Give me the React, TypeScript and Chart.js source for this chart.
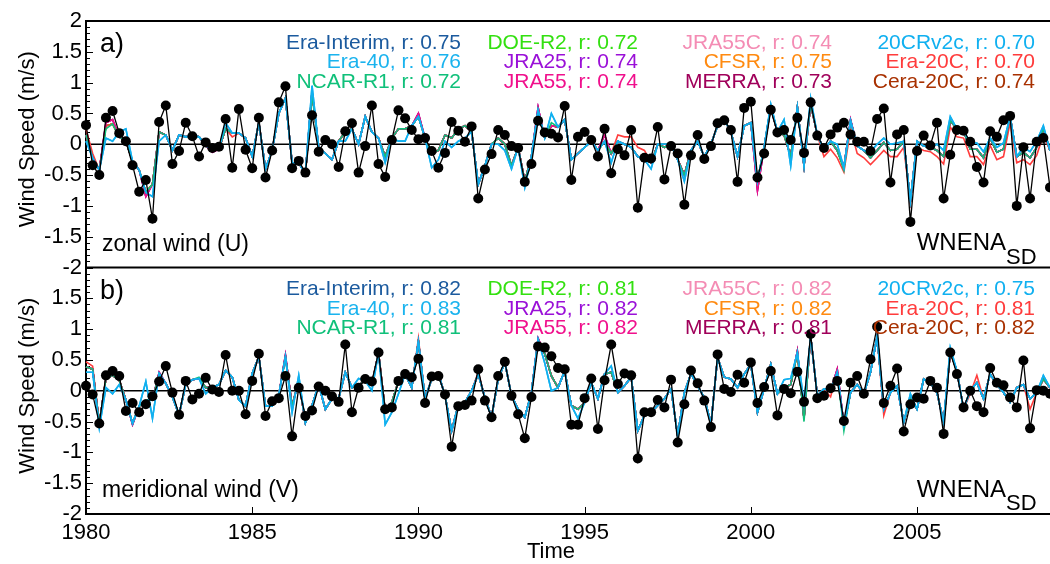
import { useEffect, useRef } from "react";
import { Chart, registerables } from "chart.js";

Chart.register(...registerables);

const FONT = '"Liberation Sans", Arial, Helvetica, sans-serif';

const FIRST_YEAR = 1980;
const LAST_YEAR = 2009;
const SAMPLES_PER_YEAR = 5;
const yearTicks = [1980, 1985, 1990, 1995, 2000, 2005];
const speedTicks = [-2, -1.5, -1, -0.5, 0, 0.5, 1, 1.5, 2];

const reanalyses = [
  "Era-Interim", "Era-40", "NCAR-R1",
  "DOE-R2", "JRA25", "JRA55",
  "JRA55C", "CFSR", "MERRA",
  "20CRv2c", "Era-20C", "Cera-20C",
];
const reanalysisColors = [
  "#1b5a9e", "#1ab3ee", "#10c07a",
  "#33e010", "#9a10d8", "#f0108c",
  "#f48cb4", "#ff8a10", "#a0005a",
  "#10b0f0", "#ff3c3c", "#a83000",
];
// which common track each reanalysis follows
const reanalysisTrack = [
  "core", "cyan", "green",
  "core", "magenta", "magenta",
  "core", "core", "magenta",
  "cyan", "red", "core",
];
const zonalR = [0.75, 0.76, 0.72, 0.72, 0.74, 0.74, 0.74, 0.75, 0.73, 0.70, 0.70, 0.74];
const meridionalR = [0.82, 0.83, 0.81, 0.81, 0.82, 0.82, 0.82, 0.82, 0.81, 0.75, 0.81, 0.82];
// painting order of the reanalysis curves, topmost first
const drawOrder = [9, 1, 2, 5, 8, 10, 4, 3, 7, 11, 0, 6];

// a) zonal wind, observed anomalies
const zonalObs = [
  0.31, -0.34, -0.50, 0.43, 0.54, 0.18, 0.05, -0.34, -0.77, -0.58,
  -1.21, 0.36, 0.63, -0.32, -0.11, 0.35, 0.13, -0.20, 0.03, -0.06,
  -0.04, 0.41, -0.38, 0.57, -0.09, -0.39, 0.43, -0.54, -0.10, 0.68,
  0.94, -0.39, -0.27, -0.46, 0.47, -0.12, 0.07, 0.00, -0.37, 0.21,
  0.34, -0.46, -0.03, 0.63, -0.32, -0.53, 0.07, 0.55, 0.42, 0.23,
  0.08, 0.10, -0.11, -0.38, -0.14, 0.36, 0.22, 0.04, 0.29, -0.88,
  -0.41, -0.16, 0.23, 0.15, -0.03, -0.06, -0.61, -0.32, 0.38, 0.19,
  0.17, 0.11, 0.62, -0.58, 0.12, 0.20, 0.07, -0.20, 0.25, -0.47,
  -0.08, -0.18, 0.23, -1.03, -0.22, -0.23, 0.28, -0.57, -0.03, -0.15,
  -0.98, -0.18, 0.15, -0.24, -0.03, 0.34, 0.39, 0.23, -0.61, 0.59,
  0.69, -0.54, -0.15, 0.56, 0.19, 0.23, 0.07, 0.43, -0.14, 0.68,
  0.14, -0.06, 0.16, 0.27, 0.35, 0.16, 0.04, 0.04, -0.11, 0.41,
  0.58, -0.62, 0.16, 0.23, -1.26, -0.11, 0.14, -0.02, 0.35, -0.88,
  -0.17, 0.23, 0.22, 0.04, -0.37, -0.62, 0.21, 0.12, 0.39, 0.46,
  -1.00, -0.05, -0.88, 0.04, 0.10, -0.70,
];
// a) common track of the reanalyses
const zonalCore = [
  0.15, -0.22, -0.42, 0.30, 0.33, 0.12, 0.05, -0.28, -0.42, -0.78,
  -0.65, 0.20, 0.15, -0.10, 0.15, 0.12, 0.14, 0.12, -0.02, -0.10,
  -0.08, 0.25, 0.18, 0.18, 0.10, -0.20, 0.35, -0.40, -0.10, 0.50,
  0.75, -0.30, -0.30, -0.48, 0.85, -0.05, -0.15, -0.25, 0.05, 0.20,
  0.25, 0.00, 0.45, 0.20, 0.10, -0.20, 0.10, 0.25, 0.25, 0.30,
  0.45, 0.10, -0.15, -0.10, 0.15, 0.10, 0.25, 0.30, 0.20, -0.65,
  -0.35, 0.00, 0.10, 0.00, -0.35, -0.05, -0.60, -0.20, 0.55, 0.10,
  0.30, 0.28, 0.40, -0.25, -0.15, -0.05, 0.05, -0.10, 0.05, -0.15,
  0.05, 0.00, -0.05, -0.20, -0.25, -0.30, 0.00, -0.05, 0.00, -0.25,
  -0.50, -0.10, 0.05, -0.20, 0.00, 0.30, 0.40, 0.20, -0.20, 0.30,
  0.35, -0.60, -0.05, 0.60, 0.20, 0.15, -0.20, 0.60, -0.35, 0.65,
  0.15, -0.08, 0.05, -0.10, -0.38, 0.38, -0.03, -0.10, -0.22, -0.10,
  0.03, -0.10, -0.08, 0.05, -0.92, 0.05, -0.03, -0.05, -0.10, -0.20,
  0.38, 0.25, 0.22, -0.08, -0.08, -0.22, 0.10, -0.13, -0.08, 0.45,
  -0.20, -0.13, -0.22, -0.05, 0.25, -0.10,
];
// a) samples where individual curves leave the common track: [index, value]
const zonalCyanDepart: [number, number][] = [
  [0, 0.05], [3, 0.10], [4, 0.05], [5, 0.20], [6, 0.25], [10, -0.85], [11, 0.05], [21, 0.35],
  [34, 0.95], [39, 0.05], [45, -0.30], [47, 0.05], [48, 0.05], [52, -0.38], [53, -0.25], [54, 0.05],
  [55, -0.05], [56, 0.05], [57, 0.10], [62, 0.00], [63, -0.10], [64, -0.40], [66, -0.70], [70, 0.50],
  [79, -0.30], [85, -0.40], [87, 0.00], [90, -0.60], [103, 0.65], [105, 0.40], [106, -0.35], [109, 0.75],
  [113, 0.00], [118, -0.12], [119, 0.00], [120, 0.10], [121, 0.00], [122, 0.02], [128, 0.00], [129, -0.10],
  [130, 0.45], [133, 0.02], [134, 0.02], [135, -0.12], [137, -0.05], [138, 0.02], [141, -0.05], [142, -0.12],
  [143, 0.05], [144, 0.30],
];
const zonalRedDepart: [number, number][] = [
  [0, 0.25], [1, -0.15], [22, 0.12], [80, 0.15], [81, 0.12], [82, 0.12], [83, -0.05], [84, -0.10],
  [111, -0.20], [112, -0.08], [113, -0.22], [114, -0.45], [115, 0.25], [116, -0.15], [117, -0.22], [118, -0.33],
  [119, -0.22], [120, -0.10], [121, -0.20], [122, -0.20], [123, -0.05], [124, -0.95], [125, -0.05], [126, -0.10],
  [127, -0.12], [128, -0.20], [129, -0.32], [130, 0.28], [131, 0.12], [132, 0.10], [133, -0.20], [134, -0.20],
  [135, -0.33], [136, -0.02], [137, -0.25], [138, -0.20], [139, 0.35], [140, -0.30], [141, -0.25], [142, -0.33],
  [143, -0.18], [144, 0.15],
];
const zonalMagentaDepart: [number, number][] = [
  [3, 0.35], [4, 0.40], [9, -0.85], [19, -0.13], [50, 0.50], [68, 0.60], [78, 0.15], [101, -0.75], [115, 0.40],
];
const zonalGreenDepart: [number, number][] = [[3, 0.25], [34, 0.80], [70, 0.35], [114, -0.42]];

// b) meridional wind, observed anomalies
const meridionalObs = [
  0.08, -0.06, -0.53, 0.25, 0.32, 0.24, -0.33, -0.20, -0.35, -0.22,
  -0.09, 0.15, 0.40, -0.03, -0.39, 0.16, -0.14, -0.05, 0.21, 0.02,
  -0.02, 0.58, 0.00, 0.00, -0.38, 0.16, 0.60, -0.41, -0.17, -0.12,
  0.24, -0.74, 0.05, -0.41, -0.32, 0.07, 0.00, -0.09, -0.18, 0.75,
  -0.35, 0.05, 0.19, 0.15, 0.62, -0.30, -0.27, 0.16, 0.27, 0.22,
  0.52, -0.20, 0.23, 0.24, -0.06, -0.91, -0.25, -0.23, -0.16, 0.35,
  -0.16, -0.43, 0.24, 0.47, -0.08, -0.38, -0.77, -0.10, 0.72, 0.70,
  0.56, 0.37, 0.35, -0.55, -0.55, -0.12, 0.20, -0.62, 0.17, 0.75,
  0.11, 0.28, 0.25, -1.10, -0.35, -0.35, -0.15, -0.27, 0.18, -0.84,
  -0.22, 0.33, 0.12, -0.16, -0.59, 0.59, 0.03, -0.02, 0.26, 0.13,
  0.46, -0.20, 0.06, 0.32, -0.40, 0.03, -0.04, 0.31, -0.18, 0.92,
  -0.12, -0.08, 0.04, 0.16, -0.49, 0.13, 0.24, -0.05, 0.51, 1.04,
  -0.20, 0.08, 0.36, -0.66, -0.22, -0.11, -0.13, 0.16, 0.05, -0.70,
  0.62, 0.27, -0.27, 0.00, -0.25, -0.35, 0.37, 0.13, 0.09, -0.11,
  -0.27, 0.49, -0.61, 0.01, 0.00, -0.05,
];
// b) common track of the reanalyses
const meridionalCore = [
  0.39, 0.35, -0.53, 0.20, 0.25, 0.17, -0.15, -0.53, -0.25, -0.15,
  -0.15, 0.28, 0.12, -0.10, -0.39, 0.10, 0.18, 0.20, 0.05, 0.05,
  0.10, 0.33, 0.22, -0.15, -0.25, 0.28, 0.55, -0.25, -0.25, -0.07,
  0.55, -0.25, 0.17, -0.52, -0.24, 0.10, -0.30, -0.13, -0.13, 0.30,
  0.05, 0.10, 0.16, 0.10, 0.62, -0.32, -0.19, 0.16, 0.27, 0.05,
  0.80, -0.13, 0.19, 0.28, -0.08, -0.65, -0.23, -0.19, 0.00, 0.27,
  -0.11, -0.43, 0.19, 0.46, -0.08, -0.30, -0.43, -0.03, 0.83, 0.60,
  0.24, 0.05, 0.32, -0.24, -0.30, -0.19, 0.13, -0.13, 0.27, 0.30,
  -0.03, 0.08, 0.22, -0.65, -0.40, -0.35, -0.24, -0.13, 0.03, -0.73,
  -0.03, 0.28, 0.08, -0.11, -0.54, 0.54, 0.22, 0.19, 0.05, 0.27,
  0.43, -0.35, 0.03, 0.43, -0.05, 0.05, 0.10, 0.62, -0.45, 0.88,
  -0.08, 0.03, 0.00, 0.30, -0.56, -0.03, 0.10, -0.05, 0.30, 0.88,
  -0.30, -0.03, 0.08, -0.51, -0.13, -0.30, 0.19, 0.13, -0.03, -0.51,
  0.63, 0.32, -0.30, 0.00, 0.13, -0.13, 0.27, 0.10, -0.03, -0.19,
  0.05, 0.10, -0.13, -0.03, 0.19, 0.05,
];
const meridionalCyanDepart: [number, number][] = [
  [0, 0.30], [1, 0.30], [2, -0.60], [3, 0.05], [4, -0.05], [5, 0.10], [9, 0.15], [10, -0.45],
  [18, -0.05], [31, -0.35], [32, 0.25], [41, 0.20], [43, 0.00], [45, -0.55], [46, -0.35], [47, -0.05],
  [69, 0.45], [70, 0.00], [74, -0.45], [79, 0.40], [105, 0.18], [106, 0.20], [108, -0.20], [124, -0.05],
  [130, 0.70], [144, 0.25],
];
const meridionalRedDepart: [number, number][] = [
  [0, 0.47], [1, 0.40], [50, 0.85], [53, 0.30], [59, 0.30], [112, -0.10], [120, -0.40], [133, -0.05],
  [134, 0.25], [142, -0.30],
];
const meridionalMagentaDepart: [number, number][] = [
  [7, -0.55], [11, 0.30], [30, 0.58], [68, 0.85], [107, 0.65], [113, 0.35],
];
const meridionalGreenDepart: [number, number][] = [[17, 0.22], [108, -0.50], [114, -0.65]];

const times = zonalObs.map((_, i) => FIRST_YEAR + i / SAMPLES_PER_YEAR);

function withDepartures(core: number[], departures: [number, number][]) {
  const out = core.slice();
  for (const [i, v] of departures) out[i] = v;
  return out;
}

function points(values: number[]) {
  return values.map((y, i) => ({ x: times[i], y }));
}

function panelTracks(core: number[], cyan: [number, number][], red: [number, number][],
  magenta: [number, number][], green: [number, number][]): Record<string, number[]> {
  return {
    core,
    cyan: withDepartures(core, cyan),
    red: withDepartures(core, red),
    magenta: withDepartures(core, magenta),
    green: withDepartures(core, green),
  };
}

function obsDataset(axisId: string, obs: number[]) {
  return {
    label: "observed",
    data: points(obs),
    yAxisID: axisId,
    borderColor: "#000",
    backgroundColor: "#000",
    borderWidth: 1.3,
    pointRadius: 5,
    pointBackgroundColor: "#000",
    pointBorderWidth: 0,
    tension: 0,
    clip: false as const,
  };
}

function reanalysisDatasets(axisId: string, tracks: Record<string, number[]>) {
  return drawOrder.map((k) => ({
    label: reanalyses[k],
    data: points(tracks[reanalysisTrack[k]]),
    yAxisID: axisId,
    borderColor: reanalysisColors[k],
    backgroundColor: reanalysisColors[k],
    borderWidth: 1.6,
    pointRadius: 0,
    tension: 0,
    clip: false as const,
  }));
}

const COLUMN_RIGHT = [461, 638, 832, 1035];
const ROW_OFFSET = [22, 41.5, 61];

function drawText(ctx: CanvasRenderingContext2D, text: string, x: number, y: number,
  size: number, color: string, align: CanvasTextAlign) {
  ctx.font = `${size}px ${FONT}`;
  ctx.fillStyle = color;
  ctx.textAlign = align;
  ctx.textBaseline = "middle";
  ctx.fillText(text, x, y);
}

const panelDecor = {
  id: "panelDecor",
  beforeDatasetsDraw(chart: any) {
    const ctx: CanvasRenderingContext2D = chart.ctx;
    const { left, right } = chart.chartArea;
    ctx.save();
    ctx.strokeStyle = "#000";
    for (const id of ["ya", "yb"]) {
      const s = chart.scales[id];
      const y0 = s.getPixelForValue(0);
      ctx.lineWidth = 1.5;
      ctx.beginPath();
      ctx.moveTo(left, y0);
      ctx.lineTo(right, y0);
      ctx.stroke();
      ctx.lineWidth = 1;
      for (let k = -20; k <= 20; k++) {
        const y = Math.round(s.getPixelForValue(k / 10)) + 0.5;
        const len = k % 5 === 0 ? 7 : 4;
        ctx.beginPath();
        ctx.moveTo(left, y);
        ctx.lineTo(left + len, y);
        ctx.stroke();
      }
    }
    // frame: top edge and divider between the panels
    const ya = chart.scales.ya;
    ctx.lineWidth = 2;
    for (const y of [ya.top, ya.bottom]) {
      ctx.beginPath();
      ctx.moveTo(left, y);
      ctx.lineTo(right, y);
      ctx.stroke();
    }
    // year ticks on the time axis
    const x = chart.scales.x;
    ctx.lineWidth = 1;
    for (const v of yearTicks) {
      const px = Math.round(x.getPixelForValue(v)) + 0.5;
      ctx.beginPath();
      ctx.moveTo(px, x.top);
      ctx.lineTo(px, x.top - 7);
      ctx.stroke();
    }
    ctx.restore();
  },
  afterDraw(chart: any) {
    const ctx: CanvasRenderingContext2D = chart.ctx;
    ctx.save();
    const panels = [
      { s: chart.scales.ya, tag: "a)", r: zonalR, note: "zonal wind (U)" },
      { s: chart.scales.yb, tag: "b)", r: meridionalR, note: "meridional wind (V)" },
    ];
    for (const p of panels) {
      const top = p.s.top;
      const bottom = p.s.bottom;
      reanalyses.forEach((name, k) => {
        const col = Math.floor(k / 3);
        const row = k % 3;
        drawText(ctx, `${name}, r: ${p.r[k].toFixed(2)}`, COLUMN_RIGHT[col], top + ROW_OFFSET[row], 21, reanalysisColors[k], "right");
      });
      drawText(ctx, p.tag, 100, top + 24, 27, "#000", "left");
      drawText(ctx, p.note, 102, bottom - 23, 23, "#000", "left");
      drawText(ctx, "WNENA", 1006, bottom - 24, 24, "#000", "right");
      drawText(ctx, "SD", 1006, bottom - 10, 22, "#000", "left");
      // axis title
      ctx.save();
      ctx.translate(28, (top + bottom) / 2 - 5);
      ctx.rotate(-Math.PI / 2);
      drawText(ctx, "Wind Speed (m/s)", 0, 0, 22, "#000", "center");
      ctx.restore();
    }
    drawText(ctx, "Time", 551, 552, 22, "#000", "center");
    ctx.restore();
  },
};

function speedAxis(hideTop: boolean) {
  return {
    type: "linear" as const,
    position: "left" as const,
    stack: "panels",
    stackWeight: 1,
    min: -2,
    max: 2,
    afterBuildTicks: (s: any) => {
      s.ticks = speedTicks.map((value) => ({ value }));
    },
    afterFit: (s: any) => {
      s.width = 86;
    },
    ticks: {
      color: "#000",
      padding: 4,
      autoSkip: false,
      font: { family: FONT, size: 22 },
      callback: (v: any) => (hideTop && v === 2 ? "" : String(v)),
    },
    grid: { display: false, drawTicks: false },
    border: { display: true, color: "#000", width: 2 },
  };
}

export default function App() {
  const canvasRef = useRef<HTMLCanvasElement | null>(null);

  useEffect(() => {
    const canvas = canvasRef.current;
    if (!canvas) return;
    const zonalTracks = panelTracks(zonalCore, zonalCyanDepart, zonalRedDepart, zonalMagentaDepart, zonalGreenDepart);
    const meridionalTracks = panelTracks(meridionalCore, meridionalCyanDepart, meridionalRedDepart, meridionalMagentaDepart, meridionalGreenDepart);

    const chart = new Chart(canvas, {
      type: "line",
      data: {
        datasets: [
          obsDataset("ya", zonalObs),
          obsDataset("yb", meridionalObs),
          ...reanalysisDatasets("ya", zonalTracks),
          ...reanalysisDatasets("yb", meridionalTracks),
        ] as any,
      },
      options: {
        responsive: false,
        animation: false,
        events: [],
        layout: { padding: { top: 21, right: 0, bottom: 0, left: 0 } },
        plugins: { legend: { display: false }, tooltip: { enabled: false } },
        scales: {
          x: {
            type: "linear",
            position: "bottom",
            min: FIRST_YEAR,
            max: LAST_YEAR,
            afterBuildTicks: (s: any) => {
              s.ticks = yearTicks.map((value) => ({ value }));
            },
            afterFit: (s: any) => {
              s.height = 50;
            },
            ticks: {
              color: "#000",
              padding: 6,
              maxRotation: 0,
              autoSkip: false,
              font: { family: FONT, size: 22 },
              callback: (v: any) => String(v),
            },
            grid: { display: false, drawTicks: false },
            border: { display: true, color: "#000", width: 2 },
          },
          yb: speedAxis(true),
          ya: speedAxis(false),
        } as any,
      },
      plugins: [panelDecor],
    });
    return () => chart.destroy();
  }, []);

  return (
    <div style={{ position: "absolute", left: 0, top: 0, width: 1050, height: 564, overflow: "hidden", background: "#fff" }}>
      <canvas ref={canvasRef} width={1055} height={564} style={{ display: "block" }} />
    </div>
  );
}
